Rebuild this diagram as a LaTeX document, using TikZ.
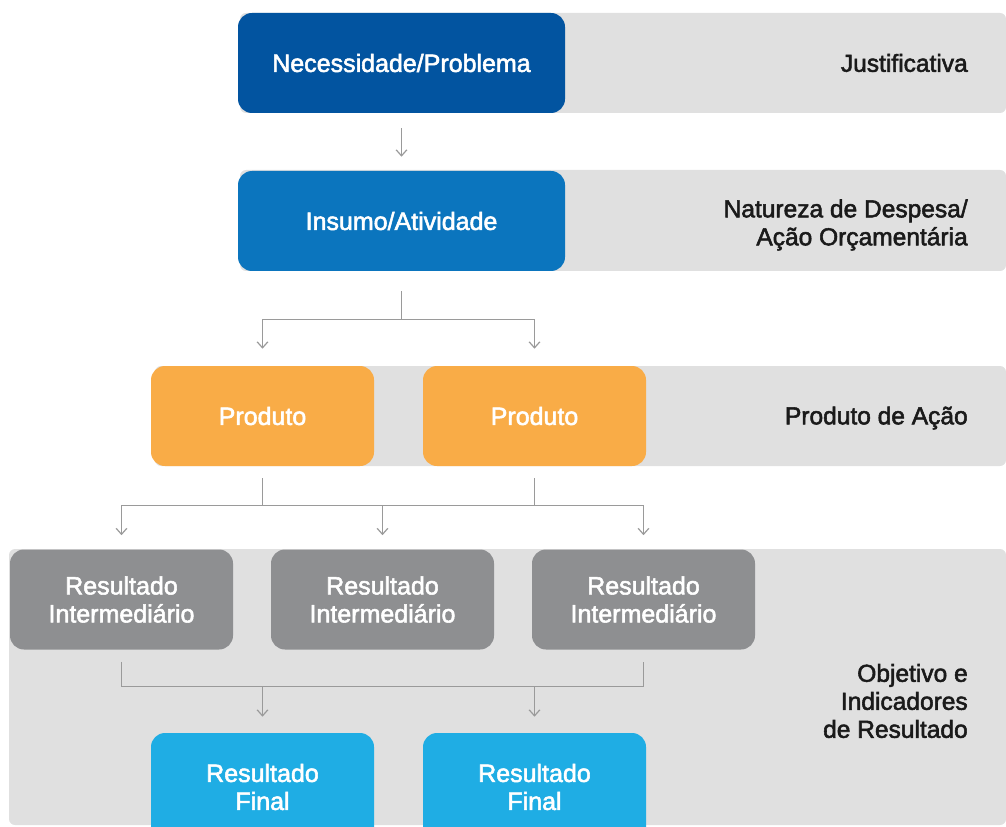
\documentclass[tikz,border=0pt]{standalone}
\usepackage{fontspec}
\setmainfont{Liberation Sans}
\newfontfamily\medfont{Liberation Sans}
\usetikzlibrary{arrows.meta,calc}
\definecolor{bandgray}{HTML}{E0E0E0}
\definecolor{darkblue}{HTML}{0254A0}
\definecolor{midblue}{HTML}{0B75BE}
\definecolor{orangebox}{HTML}{F9AC47}
\definecolor{graybox}{HTML}{8E8F91}
\definecolor{cyanbox}{HTML}{1FADE4}
\definecolor{connc}{HTML}{9A9A9A}
\definecolor{labelc}{HTML}{1A1A1A}
\begin{document}
\begin{tikzpicture}[x=0.75pt,y=-0.75pt,
  heavy/.style={execute at begin node={\special{pdf:literal 2 Tr 0.4 w}},
                execute at end node={\special{pdf:literal 0 Tr}}},
  band/.style={fill=bandgray,draw=none,rounded corners=4.5pt},
  boxbase/.style={rectangle,rounded corners=10.5pt,draw=none,text=white,align=center,heavy,
    font=\medfont\fontsize{18.75pt}{21pt}\selectfont,inner sep=0pt,minimum height=75pt},
  wideb/.style={boxbase,minimum width=245.25pt},
  narrowb/.style={boxbase,minimum width=167.25pt},
  sidelabel/.style={anchor=east,align=right,text=labelc,inner sep=0pt,heavy,
    font=\medfont\fontsize{18.4pt}{21pt}\selectfont},
  line/.style={draw=connc,line width=0.9pt},
  arr/.style={line,-{Straight Barb[length=4.5pt,width=8pt]}}]
\useasboundingbox (0,0) rectangle (1006,827);
\clip (0,0) rectangle (1006,827);
% bands
\fill[band] (240,13) rectangle (1006,113);
\fill[band] (240,170) rectangle (1006,271);
\fill[band] (155,366) rectangle (1006,466);
\fill[band] (9,549) rectangle (1006,825);
% boxes
\node[wideb,fill=darkblue] (nec) at (401.5,63) {Necessidade/Problema};
\node[wideb,fill=midblue] (ins) at (401.5,221) {Insumo/Atividade};
\node[narrowb,fill=orangebox] (p1) at (262.5,416) {Produto};
\node[narrowb,fill=orangebox] (p2) at (534.5,416) {Produto};
\node[narrowb,fill=graybox] (r1) at (121.5,599.5) {Resultado\\Intermediário};
\node[narrowb,fill=graybox] (r2) at (382.5,599.5) {Resultado\\Intermediário};
\node[narrowb,fill=graybox] (r3) at (643.5,599.5) {Resultado\\Intermediário};
\node[narrowb,fill=cyanbox,minimum height=81pt] (f1) at (262.5,787) {Resultado\\Final};
\node[narrowb,fill=cyanbox,minimum height=81pt] (f2) at (534.5,787) {Resultado\\Final};
% side labels
\node[sidelabel] (l1) at (968,63) {Justificativa};
\node[sidelabel] (l2) at (968,225) {Natureza de Despesa/\\Ação Orçamentária};
\node[sidelabel] (l3) at (968,418) {Produto de Ação};
\node[sidelabel] (l4) at (968,701) {Objetivo e\\Indicadores\\de Resultado};
% connectors
\draw[arr] ($(nec.south)+(0,15)$) -- ($(ins.north)+(0,-14)$);
\coordinate (bus1) at ($(ins.south)+(0,48)$);
\draw[line] ($(ins.south)+(0,20)$) -- (bus1);
\draw[line] (bus1 -| p1) -- (bus1 -| p2);
\draw[arr] (bus1 -| p1) -- ($(p1.north)+(0,-17)$);
\draw[arr] (bus1 -| p2) -- ($(p2.north)+(0,-17)$);
\coordinate (bus2) at ($(p1.south)+(0,39)$);
\draw[line] ($(p1.south)+(0,12)$) -- (bus2 -| p1);
\draw[line] ($(p2.south)+(0,12)$) -- (bus2 -| p2);
\draw[line] (bus2 -| r1) -- (bus2 -| r3);
\draw[arr] (bus2 -| r1) -- ($(r1.north)+(0,-14)$);
\draw[arr] (bus2 -| r2) -- ($(r2.north)+(0,-14)$);
\draw[arr] (bus2 -| r3) -- ($(r3.north)+(0,-14)$);
\coordinate (bus3) at ($(r1.south)+(0,37)$);
\draw[line] ($(r1.south)+(0,12)$) -- (bus3 -| r1) -- (bus3 -| r3) -- ($(r3.south)+(0,12)$);
\draw[arr] (bus3 -| f1) -- ($(f1.north)+(0,-16)$);
\draw[arr] (bus3 -| f2) -- ($(f2.north)+(0,-16)$);
\end{tikzpicture}
\end{document}
